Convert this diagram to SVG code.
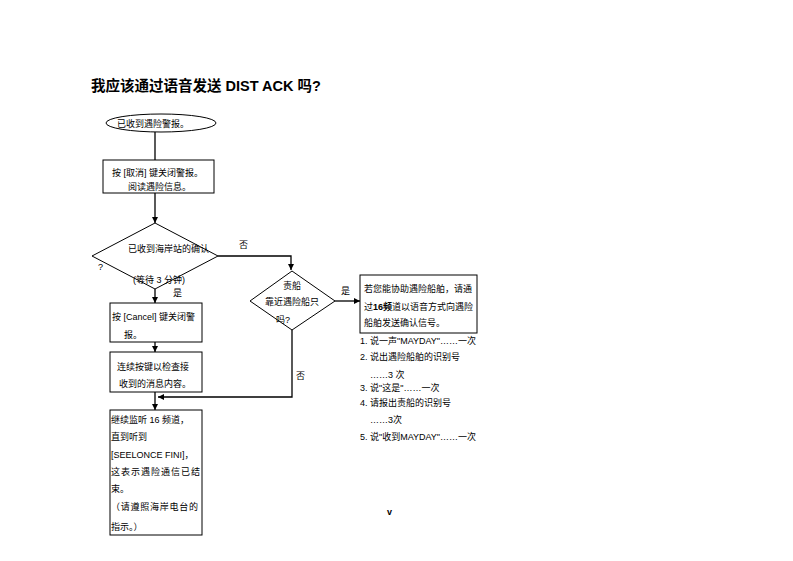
<svg xmlns="http://www.w3.org/2000/svg" width="793" height="561" viewBox="0 0 793 561">
<defs>
<marker id="ah" viewBox="0 0 10 10" refX="10" refY="5" markerWidth="6" markerHeight="6" orient="auto" markerUnits="userSpaceOnUse"><path d="M0,0 L10,5 L0,10 z" fill="#000"/></marker>
<style>
.n{fill:#fff;stroke:#000;stroke-width:1}
.t{font-family:"Liberation Sans","Noto Sans CJK SC",sans-serif;font-size:9px;fill:#000}
.c{stroke:#000;stroke-width:1.3;fill:none}
.ttl{font-family:"Liberation Sans","Noto Sans CJK SC",sans-serif;font-size:14.5px;font-weight:bold;fill:#000}
</style>
</defs>
<rect width="793" height="561" fill="#fff"/>
<text class="ttl" x="91" y="91">我应该通过语音发送 DIST ACK 吗?</text>
<g id="connectors">
<path class="c" d="M155,132 V160"/>
<path class="c" d="M155,193 V223" marker-end="url(#ah)"/>
<path class="c" d="M218,256 H291 V270" marker-end="url(#ah)"/>
<path class="c" d="M335,301 H360" marker-end="url(#ah)"/>
<path class="c" d="M155,289 V303" marker-end="url(#ah)"/>
<path class="c" d="M155,342 V352" marker-end="url(#ah)"/>
<path class="c" d="M155,392 V410" marker-end="url(#ah)"/>
<path class="c" d="M292,330 V397 H158" marker-end="url(#ah)"/>
</g>
<g id="start">
<ellipse class="n" cx="161" cy="123" rx="55" ry="9" stroke-width="1.3"/>
<text class="t" x="117" y="127">已收到遇险警报。</text>
</g>
<g id="box1">
<rect class="n" x="103" y="160" width="111" height="33"/>
<text class="t" x="112" y="176">按 [取消] 键关闭警报。</text>
<text class="t" x="128" y="190">阅读遇险信息。</text>
</g>
<g id="dec1">
<polygon class="n" points="155,223 218,256 155,289 92,256"/>
<text class="t" x="128" y="252">已收到海岸站的确认</text>
<text class="t" x="98" y="270">?</text>
<text class="t" x="133" y="283">(等待 3 分钟)</text>
<text class="t" x="173" y="296">是</text>
<text class="t" x="239" y="248">否</text>
</g>
<g id="dec2">
<polygon class="n" points="292,271 335,301 292,330 250,301"/>
<text class="t" x="292" y="289" text-anchor="middle">责船</text>
<text class="t" x="292" y="305" text-anchor="middle">靠近遇险船只</text>
<text class="t" x="276" y="323">吗?</text>
<text class="t" x="341" y="294">是</text>
<text class="t" x="296" y="379">否</text>
</g>
<g id="box2">
<rect class="n" x="360" y="275" width="117" height="58"/>
<text class="t" x="364" y="292">若您能协助遇险船舶，请通</text>
<text class="t" x="364" y="310">过<tspan font-weight="bold">16</tspan><tspan font-weight="bold">频</tspan>道以语音方式向遇险</text>
<text class="t" x="364" y="326">船舶发送确认信号。</text>
</g>
<g id="list">
<text class="t" x="360" y="344">1. 说一声"MAYDAY"……一次</text>
<text class="t" x="360" y="360">2. 说出遇险船舶的识别号</text>
<text class="t" x="370" y="378">……3 次</text>
<text class="t" x="360" y="391">3. 说"这是"……一次</text>
<text class="t" x="360" y="406">4. 请报出责船的识别号</text>
<text class="t" x="370" y="423">……3次</text>
<text class="t" x="360" y="440">5. 说"收到MAYDAY"……一次</text>
</g>
<g id="box3">
<rect class="n" x="110" y="303" width="92" height="39"/>
<text class="t" x="112" y="320">按 [Cancel] 键关闭警</text>
<text class="t" x="124" y="338">报。</text>
</g>
<g id="box4">
<rect class="n" x="110" y="352" width="92" height="40"/>
<text class="t" x="117" y="370">连续按键以检查接</text>
<text class="t" x="119" y="387">收到的消息内容。</text>
</g>
<g id="box5">
<rect class="n" x="110" y="410" width="92" height="125"/>
<text class="t" x="111" y="423">继续监听 16 频道，</text>
<text class="t" x="111" y="440">直到听到</text>
<text class="t" x="111" y="458">[SEELONCE FINI]，</text>
<text class="t" x="111" y="475" textLength="89">这表示遇险通信已结</text>
<text class="t" x="111" y="492">束。</text>
<text class="t" x="111" y="510" textLength="87">（请遵照海岸电台的</text>
<text class="t" x="111" y="530">指示。）</text>
</g>
<text class="t" x="387" y="515" font-weight="bold" font-size="11">v</text>
</svg>
